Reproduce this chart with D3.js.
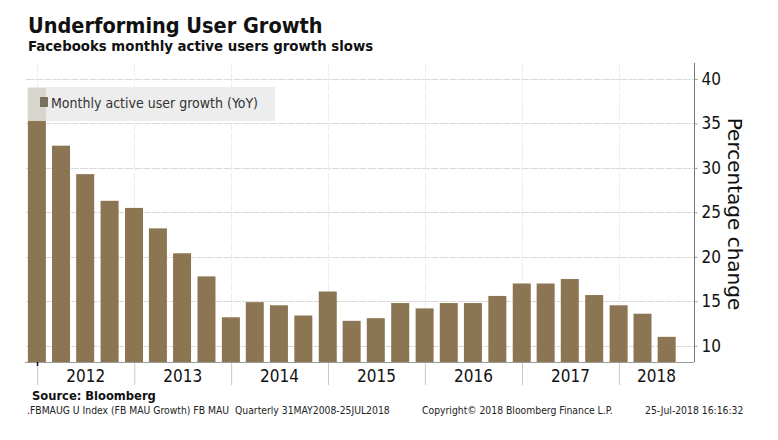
<!DOCTYPE html>
<meta charset="utf-8">
<script src="https://d3js.org/d3.v7.min.js"></script>
<style>
  body { margin: 0; background: #fff; }
  text { font-family: "DejaVu Sans Condensed", "DejaVu Sans", sans-serif; font-stretch: condensed; }
</style>
<div id="my_dataviz"></div>
<script>
  // quarter end dates, Q4 2011 .. Q2 2018
  var quarters = ["2011-12-31", "2012-03-31", "2012-06-30", "2012-09-30", "2012-12-31",
    "2013-03-31", "2013-06-30", "2013-09-30", "2013-12-31",
    "2014-03-31", "2014-06-30", "2014-09-30", "2014-12-31",
    "2015-03-31", "2015-06-30", "2015-09-30", "2015-12-31",
    "2016-03-31", "2016-06-30", "2016-09-30", "2016-12-31",
    "2017-03-31", "2017-06-30", "2017-09-30", "2017-12-31",
    "2018-03-31", "2018-06-30"];
  // Monthly active user growth (YoY), %
  var growth = [39.0, 32.5, 29.3, 26.3, 25.5,
    23.2, 20.4, 17.8, 13.2,
    14.9, 14.55, 13.4, 16.1,
    12.8, 13.1, 14.8, 14.2,
    14.8, 14.8, 15.6, 17.0,
    17.0, 17.5, 15.7, 14.55,
    13.6, 11.0];
  var years = ["2012", "2013", "2014", "2015", "2016", "2017", "2018"];
  var yTicks = [10, 15, 20, 25, 30, 35, 40];

  var W = 778, H = 440;
  // plot box (note: "top" is taken by window.top, so use pTop etc.)
  var pLeft = 26, pRight = 694, pTop = 63, pBottom = 362;
  var parse = d3.timeParse("%Y-%m-%d");

  var svg = d3.select("#my_dataviz").append("svg").attr("width", W).attr("height", H);

  var x = d3.scaleTime().domain([parse("2011-11-20"), parse("2018-10-11")]).range([pLeft, pRight]);
  var y = d3.scaleLinear().domain([8.17, 41.8]).range([pBottom, pTop]);

  // title
  svg.append("text").attr("x", 28).attr("y", 33).style("font-size", "21.5px").style("font-weight", "bold")
    .attr("fill", "#111").text("Underforming User Growth");
  svg.append("text").attr("x", 28).attr("y", 51).style("font-size", "14.8px").style("font-weight", "bold")
    .attr("fill", "#111").text("Facebooks monthly active users growth slows");

  // grid
  svg.append("g").selectAll("line").data(yTicks).enter().append("line")
    .attr("x1", pLeft).attr("x2", pRight).attr("y1", function(d) { return Math.round(y(d)) + 0.5; })
    .attr("y2", function(d) { return Math.round(y(d)) + 0.5; })
    .attr("stroke", "#dadada").attr("stroke-dasharray", "8,1");
  var yearStarts = years.map(function(d) { return parse(d + "-01-01"); });
  svg.append("g").selectAll("line").data(yearStarts).enter().append("line")
    .attr("x1", function(d) { return Math.round(x(d)) + 0.5; }).attr("x2", function(d) { return Math.round(x(d)) + 0.5; })
    .attr("y1", pTop).attr("y2", pBottom)
    .attr("stroke", "#ececec").attr("stroke-dasharray", "8,2");

  // bars
  var bw = 18;
  svg.append("g").selectAll("rect").data(quarters).enter().append("rect")
    .attr("x", function(d) { return x(parse(d)) - bw / 2; })
    .attr("y", function(d, i) { return y(growth[i]); })
    .attr("width", bw)
    .attr("height", function(d, i) { return pBottom - y(growth[i]); })
    .attr("fill", "#8c7553");

  // x axis: year separators + centred labels
  var xAxis = svg.append("g").attr("transform", "translate(0," + pBottom + ")")
    .call(d3.axisBottom(x).tickValues(yearStarts).tickSize(23).tickFormat(""));
  xAxis.select(".domain").remove();
  xAxis.selectAll(".tick line").attr("stroke", "#c8c8c8");
  svg.append("line").attr("x1", pLeft - 1).attr("x2", pRight).attr("y1", pBottom + 0.5).attr("y2", pBottom + 0.5)
    .attr("stroke", "#9a9a9a");
  svg.append("line").attr("x1", Math.round(x(yearStarts[0])) + 0.5).attr("x2", Math.round(x(yearStarts[0])) + 0.5)
    .attr("y1", pBottom).attr("y2", pBottom + 4).attr("stroke", "#111").attr("stroke-width", 1.5);
  svg.append("g").selectAll("text").data(years).enter().append("text")
    .attr("x", function(d, i) {
      var a = x(yearStarts[i]);
      var b = i < years.length - 1 ? x(yearStarts[i + 1]) : pRight;
      return (a + b) / 2;
    })
    .attr("y", 382).attr("text-anchor", "middle").style("font-size", "17px").attr("fill", "#111")
    .text(function(d) { return d; });

  // right y axis
  var yAxis = svg.append("g").attr("transform", "translate(" + (pRight + 0.5) + ",0)")
    .call(d3.axisRight(y).tickValues(yTicks).tickSize(3).tickPadding(4));
  yAxis.select(".domain").attr("stroke", "#777").attr("d", "M0," + pTop + "V" + pBottom);
  yAxis.selectAll(".tick line").attr("stroke", "#999");
  yAxis.selectAll(".tick text").style("font-size", "17px").attr("fill", "#111")
    .style("font-family", "\"DejaVu Sans Condensed\", \"DejaVu Sans\", sans-serif");
  svg.append("text").attr("transform", "translate(728,214) rotate(90)").attr("text-anchor", "middle")
    .style("font-size", "20px").style("font-stretch", "normal").style("font-family", "\"DejaVu Sans\", sans-serif")
    .attr("fill", "#111").text("Percentage change");

  // legend
  svg.append("rect").attr("x", 28).attr("y", 87).attr("width", 247).attr("height", 34)
    .attr("fill", "#e9e9e9").attr("opacity", 0.82);
  svg.append("rect").attr("x", 40).attr("y", 97).attr("width", 8).attr("height", 10).attr("fill", "#7a705f");
  svg.append("text").attr("x", 51).attr("y", 108).style("font-size", "14px").attr("fill", "#333")
    .text("Monthly active user growth (YoY)");

  // footer
  svg.append("text").attr("x", 32).attr("y", 400).style("font-size", "12.8px").style("font-weight", "bold")
    .attr("fill", "#111").text("Source: Bloomberg");
  svg.append("text").attr("x", 27).attr("y", 414).style("font-size", "10.3px").style("white-space", "pre")
    .attr("fill", "#222").text(".FBMAUG U Index (FB MAU Growth) FB MAU  Quarterly 31MAY2008-25JUL2018");
  svg.append("text").attr("x", 422).attr("y", 414).style("font-size", "10.3px").attr("fill", "#222")
    .text("Copyright\u00a9 2018 Bloomberg Finance L.P.");
  svg.append("text").attr("x", 645).attr("y", 414).style("font-size", "10.3px").attr("fill", "#222")
    .text("25-Jul-2018 16:16:32");
</script>
